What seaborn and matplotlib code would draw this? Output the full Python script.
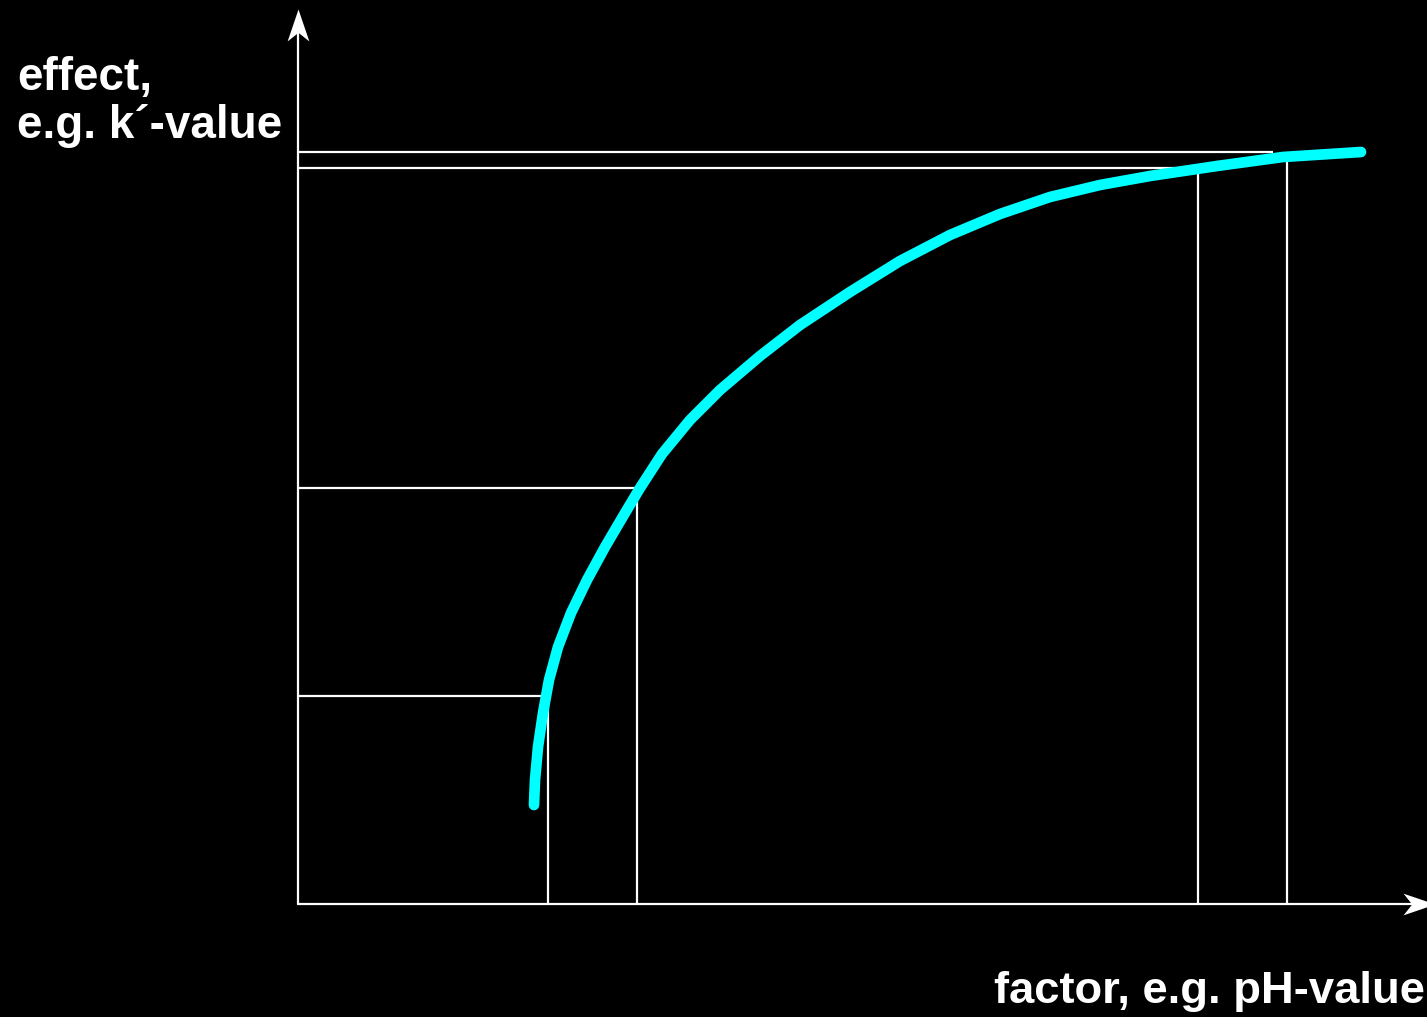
import numpy as np
import pandas as pd
import matplotlib
matplotlib.use("Agg")
import matplotlib.pyplot as plt
from matplotlib.path import Path
import seaborn as sns

# curve (factor vs effect, arbitrary units)
factor = [2.36, 2.37, 2.40, 2.45, 2.51, 2.60, 2.73, 2.89, 3.07, 3.27, 3.42,
          3.64, 3.92, 4.22, 4.62, 5.02, 5.52, 6.02, 6.52, 7.02, 7.52, 8.02,
          8.52, 9.19, 9.85, 10.63]
effect = [0.99, 1.24, 1.57, 1.91, 2.24, 2.57, 2.91, 3.24, 3.57, 3.91, 4.16,
          4.50, 4.84, 5.14, 5.48, 5.79, 6.12, 6.43, 6.69, 6.90, 7.07, 7.19,
          7.28, 7.38, 7.47, 7.52]

# guide lines: x position, y of horizontal, top of vertical, end of horizontal
guide_x = [2.50, 3.39, 9.00, 9.89]
guide_y = [2.08, 4.16, 7.36, 7.52]
guide_top = [2.23, 4.16, 7.36, 7.52]
guide_end = [2.50, 3.39, 9.00, 9.75]

x_label = "factor, e.g. pH-value"
y_label_1 = "effect,"
y_label_2 = "e.g. k\u00b4-value"

sns.set_style("dark", {"axes.facecolor": "black", "figure.facecolor": "black"})
plt.rcParams["font.family"] = ["Liberation Sans", "DejaVu Sans"]

fig = plt.figure(figsize=(14.27, 10.17), dpi=100)
ax = fig.add_axes([0, 0, 1, 1])
ax.set_facecolor("black")
ax.set_xlim(-2.98, 11.29)
ax.set_ylim(-1.13, 9.04)
ax.axis("off")

df = pd.DataFrame({"factor": factor, "effect": effect})

# guide rectangles
ax.vlines(guide_x, 0, guide_top, color="white", lw=1.6, zorder=2)
ax.hlines(guide_y, 0, guide_end, color="white", lw=1.6, zorder=2)

# main curve
sns.lineplot(data=df, x="factor", y="effect", color="cyan", lw=7.7,
             ax=ax, zorder=3, solid_capstyle="round", solid_joinstyle="round",
             sort=False)

# axes with notched arrow heads
ax.plot([0, 0], [0, 8.8], color="white", lw=1.6, zorder=2)
ax.plot([0, 11.2], [0, 0], color="white", lw=1.6, zorder=2)
head_up = Path([(0, 0), (0.34, -1), (0, -0.73), (-0.34, -1), (0, 0)],
               [Path.MOVETO, Path.LINETO, Path.LINETO, Path.LINETO, Path.CLOSEPOLY])
head_right = Path([(0, 0), (-1, 0.34), (-0.73, 0), (-1, -0.34), (0, 0)],
                  [Path.MOVETO, Path.LINETO, Path.LINETO, Path.LINETO, Path.CLOSEPOLY])
ax.plot([0], [8.95], marker=head_up, ms=46, color="white", mew=0,
        clip_on=False, zorder=4)
ax.plot([11.37], [0], marker=head_right, ms=46, color="white", mew=0,
        clip_on=False, zorder=4)

ax.text(-2.81, 8.14, y_label_1, color="white", fontsize=33, fontweight="bold",
        ha="left", va="baseline")
ax.text(-2.81, 7.66, y_label_2, color="white", fontsize=33, fontweight="bold",
        ha="left", va="baseline")
ax.text(11.27, -0.99, x_label, color="white", fontsize=32.7, fontweight="bold",
        ha="right", va="baseline")

fig.savefig("out.png", dpi=100, facecolor="black")
